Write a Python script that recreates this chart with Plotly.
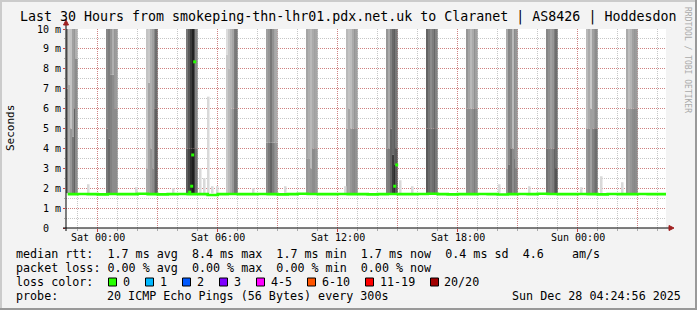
import plotly.graph_objects as go
import pandas as pd

# ---------------- data ----------------
t_start = pd.Timestamp("2025-12-26 22:24:56")
t_end = pd.Timestamp("2025-12-28 04:24:56")
t_zero = pd.Timestamp("2025-12-27 00:00:00")   # Sat 00:00

# smoke bands (every 2 h a burst of high pings); hour of band end relative to Sat 00:00
band_end_hours = [-1, 1, 3, 5, 7, 9, 11, 13, 15, 17, 19, 21, 23, 25, 27]
# gray level of each band column (upper part / lower part) and split height (ms)
band_top_shade = [
    [140, 200, 195, 160, 150, 175],
    [135, 125, 150, 175, 150, 155],
    [195, 200, 175, 160, 135, 110],
    [120, 90, 60, 35, 80, 135],
    [220, 200, 180, 165, 125, 120],
    [160, 150, 120, 145, 165, 170],
    [165, 175, 185, 170, 160, 165],
    [185, 195, 190, 170, 150, 160],
    [150, 170, 130, 105, 95, 120],
    [100, 120, 140, 125, 105, 130],
    [150, 165, 185, 170, 145, 160],
    [170, 135, 145, 185, 140, 150],
    [135, 145, 160, 150, 125, 110],
    [185, 170, 200, 160, 150, 140],
    [170, 190, 180, 160, 150, 155],
]
band_low_shade = [
    [120, 170, 150, 120, 100, 140],
    [120, 105, 130, 140, 140, 140],
    [170, 165, 150, 140, 120, 95],
    [95, 70, 45, 30, 60, 110],
    [200, 185, 170, 150, 115, 115],
    [140, 120, 100, 125, 140, 150],
    [150, 155, 150, 140, 140, 150],
    [160, 165, 150, 140, 135, 145],
    [130, 125, 100, 60, 45, 90],
    [90, 105, 120, 110, 95, 120],
    [140, 140, 150, 140, 125, 140],
    [150, 110, 110, 140, 120, 130],
    [115, 125, 135, 125, 100, 85],
    [150, 140, 160, 130, 120, 110],
    [150, 160, 150, 140, 135, 140],
]
band_split = [
    [7.0, 7.2, 5.0, 4.6, 6.0, 8.5],
    [5.0, 4.5, 7.7, 7.7, 6.0, 6.0],
    [3.0, 7.3, 4.0, 3.0, 6.0, 6.0],
    [4.0, 4.0, 4.0, 4.0, 4.0, 4.0],
    [8.7, 8.0, 6.0, 6.0, 6.0, 6.0],
    [4.3, 4.3, 4.3, 4.3, 4.3, 4.3],
    [3.5, 3.5, 3.0, 4.0, 4.0, 4.0],
    [5.0, 6.0, 5.0, 5.0, 5.0, 5.0],
    [4.0, 4.0, 5.0, 3.7, 3.2, 4.0],
    [5.0, 5.0, 5.0, 5.0, 5.0, 5.0],
    [6.0, 6.0, 6.0, 6.0, 6.0, 6.0],
    [3.0, 3.2, 4.0, 4.0, 3.5, 3.0],
    [4.0, 4.0, 4.0, 4.0, 4.0, 3.0],
    [5.0, 5.0, 6.0, 5.0, 5.0, 5.0],
    [6.0, 6.0, 6.0, 6.0, 6.0, 6.0],
]
smoke_base = 1.75
smoke_top = 10.5

# isolated light smoke spikes outside bands (hour, top in ms)
spike_hours = [-0.45, 1.95, 3.8, 5.15, 5.35, 5.55, 5.75, 6.0, 7.8, 9.4, 12.4,
               15.15, 15.75, 20.1, 21.6, 24.2, 25.2, 26.25]
spike_tops = [2.2, 2.05, 2.0, 3.0, 2.5, 6.6, 2.1, 2.1, 2.0, 2.1, 2.1,
              2.4, 2.1, 2.2, 2.1, 2.05, 2.6, 2.3]

# median rtt every 30 min from Fri 22:30 (ms)
median_vals = [1.70, 1.71, 1.70, 1.69, 1.71, 1.70, 1.70, 1.72, 1.70, 1.69,
               1.70, 1.71, 1.70, 1.70, 1.66, 1.70, 1.71, 1.70, 1.70, 1.71,
               1.70, 1.69, 1.70, 1.72, 1.71, 1.70, 1.70, 1.71, 1.70, 1.70,
               1.69, 1.70, 1.71, 1.70, 1.70, 1.71, 1.72, 1.70, 1.69, 1.70,
               1.70, 1.71, 1.70, 1.68, 1.70, 1.71, 1.70, 1.72, 1.71, 1.70,
               1.70, 1.71, 1.70, 1.69, 1.71, 1.70, 1.70, 1.71, 1.70, 1.70,
               1.70]
# median outliers drawn as dots (hour, ms)
dot_hours = [4.6, 4.7, 4.75, 4.85, 14.85, 14.95]
dot_vals = [1.8, 2.1, 3.67, 8.35, 2.1, 3.17]

x_tick_hours = [0, 3, 6, 9, 12, 15, 18, 21, 24, 27]
x_tick_text = ["Sat 00:00", "", "Sat 06:00", "", "Sat 12:00", "", "Sat 18:00", "", "Sun 00:00", ""]
y_tick_vals = [0, 1, 2, 3, 4, 5, 6, 7, 8, 9, 10]
y_tick_text = ["0\u00a0\u00a0", "1 m", "2 m", "3 m", "4 m", "5 m", "6 m", "7 m", "8 m", "9 m", "10 m"]

legend_rows = [
    "median rtt:  1.7 ms avg  8.4 ms max  1.7 ms min  1.7 ms now  0.4 ms sd  4.6    am/s",
    "packet loss: 0.00 % avg  0.00 % max  0.00 % min  0.00 % now",
]
loss_labels = ["0", "1", "2", "3", "4-5", "6-10", "11-19", "20/20"]
loss_colors = ["#26ff00", "#00b8ff", "#0059ff", "#7e00ff", "#ff00ff", "#ff5500", "#ff0000", "#a10000"]
probe_text = "20 ICMP Echo Pings (56 Bytes) every 300s"
stamp_text = "Sun Dec 28 04:24:56 2025"
title_text = "Last 30 Hours from smokeping-thn-lhr01.pdx.net.uk to Claranet | AS8426 | Hoddesdon"

# ---------------- geometry ----------------
W, H = 697, 310
L, R, T, B = 66, 666, 29, 228
MONO = "DejaVu Sans Mono"


def hx(h):
    return t_zero + pd.Timedelta(hours=h)


def px(x):
    return (x - L) / (R - L)


def py(y):
    return (B - y) / (B - T)


def nb(s):
    return s.replace(" ", "\u00a0")


# ---------------- smoke bars ----------------
col_min = 5.5
bx, bbase, by, bcol = [], [], [], []
for bi, eh in enumerate(band_end_hours):
    for k in range(6):
        c = hx(eh) - pd.Timedelta(minutes=33 - col_min * k - col_min / 2)
        s = band_split[bi][k]
        lo = band_low_shade[bi][k]
        hi = band_top_shade[bi][k]
        bx += [c, c]
        bbase += [smoke_base, s]
        by += [s - smoke_base, smoke_top - s]
        bcol += [f"rgb({lo},{lo},{lo})", f"rgb({hi},{hi},{hi})"]

fig = go.Figure()
fig.add_trace(go.Bar(
    x=bx, y=by, base=bbase, width=col_min * 60000 * 1.02,
    marker=dict(color=bcol, line=dict(width=0)), hoverinfo="skip"))

fig.add_trace(go.Bar(
    x=[hx(h) for h in spike_hours], y=[t - smoke_base for t in spike_tops], base=smoke_base,
    width=5 * 60000, marker=dict(color="#d9d9d9", line=dict(width=0)), hoverinfo="skip"))

med_x = [hx(-1.5 + 0.5 * i) for i in range(len(median_vals) - 1)] + [t_end]
fig.add_trace(go.Scatter(
    x=med_x, y=median_vals, mode="lines", line=dict(color="#26ff00", width=2.6, shape="hv"),
    hoverinfo="skip"))
fig.add_trace(go.Scatter(
    x=[hx(h) for h in dot_hours], y=dot_vals, mode="markers",
    marker=dict(symbol="square", size=3, color="#26ff00", line=dict(width=0)), hoverinfo="skip"))

grid_major = "rgba(215,60,60,0.5)"
grid_minor = "rgba(120,120,120,0.42)"

fig.update_layout(
    width=W, height=H,
    margin=dict(l=L, r=W - R, t=T, b=H - B, pad=0),
    paper_bgcolor="#f3f3f3", plot_bgcolor="#ffffff",
    showlegend=False, barmode="overlay",
    font=dict(family=MONO, size=10, color="#000"),
    xaxis=dict(
        type="date", range=[t_start, t_end], fixedrange=True,
        tickmode="array", tickvals=[hx(h) for h in x_tick_hours], ticktext=x_tick_text,
        showticklabels=False,
        showgrid=True, gridcolor=grid_major, griddash="1px,1px", gridwidth=1,
        ticks="outside", ticklen=3, tickcolor="#d04040", tickwidth=1,
        minor=dict(dtick=3600000, tick0=hx(0), showgrid=True, gridcolor=grid_minor,
                   griddash="1px,1px", ticks="outside", ticklen=2, tickcolor="#aaaaaa"),
        showline=False, zeroline=False,
    ),
    yaxis=dict(
        range=[0, 10], fixedrange=True,
        tickmode="array", tickvals=y_tick_vals, ticktext=y_tick_text,
        showgrid=True, gridcolor=grid_major, griddash="1px,1px", gridwidth=1,
        ticks="outside", ticklen=2, tickcolor="#d04040",
        tickfont=dict(family=MONO, size=10, color="#000"),
        minor=dict(dtick=0.5, tick0=0, showgrid=True, gridcolor=grid_minor,
                   griddash="1px,1px", ticks="outside", ticklen=1, tickcolor="#aaaaaa"),
        showline=False, zeroline=False,
    ),
)

shapes = []
# frame
shapes.append(dict(type="line", xref="paper", yref="paper", x0=px(0), x1=px(W), y0=py(1), y1=py(1),
                   line=dict(color="#cbcbcb", width=2)))
shapes.append(dict(type="line", xref="paper", yref="paper", x0=px(1), x1=px(1), y0=py(0), y1=py(H),
                   line=dict(color="#cbcbcb", width=2)))
shapes.append(dict(type="line", xref="paper", yref="paper", x0=px(0), x1=px(W), y0=py(H - 1), y1=py(H - 1),
                   line=dict(color="#999999", width=2)))
shapes.append(dict(type="line", xref="paper", yref="paper", x0=px(W - 1), x1=px(W - 1), y0=py(0), y1=py(H),
                   line=dict(color="#999999", width=2)))
# axes
shapes.append(dict(type="line", xref="paper", yref="paper", x0=px(63), x1=px(669), y0=py(B), y1=py(B),
                   line=dict(color="#000", width=1)))
shapes.append(dict(type="line", xref="paper", yref="paper", x0=px(L), x1=px(L), y0=py(231), y1=py(25),
                   line=dict(color="#000", width=1)))
shapes.append(dict(type="path", xref="paper", yref="paper",
                   path=f"M {px(669)},{py(B - 2.5)} L {px(674)},{py(B)} L {px(669)},{py(B + 2.5)} Z",
                   fillcolor="#a02020", line=dict(color="#a02020", width=1)))
shapes.append(dict(type="path", xref="paper", yref="paper",
                   path=f"M {px(L - 2.5)},{py(25)} L {px(L)},{py(20)} L {px(L + 2.5)},{py(25)} Z",
                   fillcolor="#a02020", line=dict(color="#a02020", width=1)))

# loss colour boxes
box_x = [108.5, 145.5, 182.5, 219.5, 256.5, 307.5, 365.5, 430.5]
label_x = [122, 159, 196, 233, 270, 321, 379, 443]
for bxp, c in zip(box_x, loss_colors):
    shapes.append(dict(type="rect", xref="paper", yref="paper",
                       x0=px(bxp), x1=px(bxp + 8), y0=py(278), y1=py(286),
                       fillcolor=c, line=dict(color="#000", width=1)))
fig.update_layout(shapes=shapes)

ann = []


def text(x, y, s, size=11.7, anchor="left", color="#000", angle=0):
    ann.append(dict(xref="paper", yref="paper", x=px(x), y=py(y), text=nb(s), showarrow=False,
                    xanchor=anchor, yanchor="middle", textangle=angle, borderpad=0,
                    font=dict(family=MONO, size=size, color=color)))


# x tick labels placed at their dates
for h, lab in zip(x_tick_hours, x_tick_text):
    if lab:
        ann.append(dict(xref="x", yref="paper", x=hx(h), y=py(237), text=nb(lab), showarrow=False,
                        xanchor="center", yanchor="middle", borderpad=0,
                        font=dict(family=MONO, size=10, color="#000")))

text(19, 17, title_text, size=13.3)
text(10, 128, "Seconds", size=11, anchor="center", angle=-90)
text(688, 60, "RRDTOOL / TOBI OETIKER", size=8, anchor="center", color="#aaaaaa", angle=90)
text(15, 254, legend_rows[0])
text(15, 268, legend_rows[1])
text(15, 282, "loss color:")
for lx, lab in zip(label_x, loss_labels):
    text(lx, 282, lab)
text(15, 296, "probe:")
text(106, 296, probe_text)
text(682, 296, stamp_text, anchor="right")
fig.update_layout(annotations=ann)

fig.write_html("out.html")
